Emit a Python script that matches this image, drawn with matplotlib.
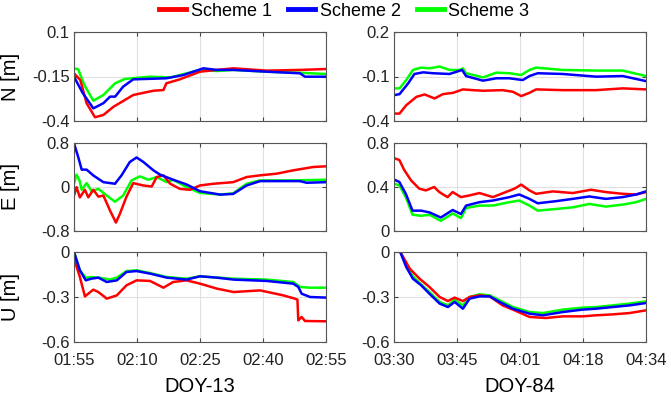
import matplotlib
matplotlib.use("Agg")
import matplotlib.pyplot as plt
import numpy as np

plt.rcParams['font.family'] = ['Liberation Sans', 'DejaVu Sans']

# ---------------- data (minutes since start, metres) ----------------
left_xticklabels = ["01:55", "02:10", "02:25", "02:40", "02:55"]
right_xticklabels = ["03:30", "03:45", "04:01", "04:18", "04:34"]
left_span = 60
right_span = 64

# N, left (DOY-13)
nl_s1_t = [0, 1.5, 3, 5, 7, 9.4, 14.1, 18.9, 21.3, 22, 25.2, 30, 34, 38, 45.9, 53.8, 60]
nl_s1_v = [-0.132, -0.17, -0.3, -0.379, -0.366, -0.32, -0.254, -0.23, -0.226, -0.188, -0.166, -0.123, -0.113, -0.104, -0.117, -0.113, -0.108]
nl_s2_t = [0, 2, 4.6, 7, 8.6, 9.8, 11.7, 14.1, 22, 26, 30.8, 34, 38, 45.9, 53.8, 55, 60]
nl_s2_v = [-0.151, -0.24, -0.329, -0.30, -0.263, -0.263, -0.207, -0.166, -0.16, -0.142, -0.104, -0.113, -0.113, -0.123, -0.132, -0.151, -0.151]
nl_s3_t = [0, 1, 2.5, 4.6, 7, 9.8, 12.1, 18, 23, 30, 34, 38, 45.9, 53.8, 60]
nl_s3_v = [-0.104, -0.11, -0.2, -0.286, -0.254, -0.188, -0.164, -0.151, -0.155, -0.113, -0.119, -0.113, -0.123, -0.129, -0.136]

# E, left
el_s1_t = [0, 0.6, 1.4, 2.6, 3.4, 4.6, 5.8, 7.0, 8.6, 9.98, 10.9, 12.5, 14.1, 16.5, 18.5, 19.7, 21.3, 22.9, 25.2, 27.6, 30, 33.2, 37.9, 41.1, 44.3, 48.3, 52.2, 57, 60]
el_s1_v = [-0.156, -0.003, -0.188, -0.051, -0.188, -0.051, -0.175, -0.156, -0.432, -0.647, -0.493, -0.175, 0.07, 0.028, 0.009, 0.181, 0.212, 0.059, -0.033, -0.051, 0.028, 0.059, 0.088, 0.181, 0.212, 0.243, 0.303, 0.364, 0.376]
el_s2_t = [0, 0.99, 1.83, 3.0, 4.6, 7.0, 9.76, 11.3, 13.3, 14.9, 16.5, 18.9, 20.5, 23.6, 26.8, 30, 34.8, 37.9, 41.1, 44.3, 49.0, 53.8, 55.4, 60]
el_s2_v = [0.794, 0.548, 0.316, 0.316, 0.21, 0.088, 0.059, 0.21, 0.456, 0.537, 0.456, 0.303, 0.224, 0.132, 0.046, -0.077, -0.138, -0.126, 0.028, 0.107, 0.107, 0.107, 0.077, 0.088]
el_s3_t = [0, 0.6, 1.3, 1.83, 3.0, 4.2, 5.8, 7.8, 9.76, 11.7, 13.7, 15.7, 17.7, 19.7, 22.1, 23.6, 26.8, 30, 34.8, 37.9, 41.1, 44.3, 52.2, 60]
el_s3_v = [0.059, 0.224, 0.12, -0.051, 0.07, -0.077, -0.033, -0.156, -0.267, -0.156, 0.12, 0.193, 0.132, 0.181, 0.088, 0.132, -0.003, -0.107, -0.138, -0.114, 0.059, 0.12, 0.12, 0.132]

# U, left
ul_s1_t = [0, 1.4, 2.6, 3.4, 4.6, 5.8, 7.8, 10.2, 12.5, 14.9, 18.1, 21.3, 23.6, 26.8, 30, 34, 38, 44.3, 49.8, 52.6, 53.2, 53.4, 54.2, 55.0, 60]
ul_s1_v = [-0.044, -0.167, -0.296, -0.278, -0.251, -0.267, -0.311, -0.289, -0.222, -0.189, -0.193, -0.238, -0.2, -0.189, -0.211, -0.244, -0.267, -0.256, -0.289, -0.311, -0.318, -0.456, -0.433, -0.46, -0.462]
ul_s2_t = [0, 1.4, 2.8, 4.1, 5.8, 7.8, 10.2, 12.5, 14.9, 18.1, 22.1, 26.8, 30, 34, 38, 45.9, 52.2, 53.4, 54.2, 56.2, 60]
ul_s2_v = [0.0, -0.122, -0.189, -0.178, -0.171, -0.2, -0.189, -0.133, -0.127, -0.144, -0.171, -0.184, -0.162, -0.171, -0.184, -0.193, -0.211, -0.233, -0.278, -0.3, -0.304]
ul_s3_t = [0, 1.4, 2.8, 4.1, 6.0, 8.4, 10.2, 12.5, 14.9, 18.1, 22.1, 26.8, 30, 38, 45.9, 52.2, 53.8, 56.2, 60]
ul_s3_v = [0.0, -0.122, -0.171, -0.167, -0.171, -0.184, -0.171, -0.127, -0.122, -0.14, -0.167, -0.178, -0.162, -0.178, -0.184, -0.2, -0.233, -0.238, -0.238]

# N, right (DOY-84)
nr_s1_t = [0, 1.4, 3.1, 5.7, 7.8, 10.3, 12.4, 15.0, 17.5, 20.0, 22.6, 27.6, 30.2, 32.3, 34.4, 36.1, 42.8, 51.3, 58.1, 64]
nr_s1_v = [-0.35, -0.35, -0.294, -0.237, -0.221, -0.248, -0.219, -0.21, -0.187, -0.192, -0.196, -0.192, -0.203, -0.232, -0.21, -0.187, -0.192, -0.192, -0.18, -0.187]
nr_s2_t = [0, 1.4, 3.6, 5.2, 7.4, 9.9, 14.1, 17.3, 18.3, 22.6, 26.0, 29.3, 32.7, 34.4, 36.5, 42.8, 51.3, 58.1, 64]
nr_s2_v = [-0.226, -0.219, -0.146, -0.083, -0.072, -0.078, -0.083, -0.056, -0.097, -0.128, -0.112, -0.112, -0.124, -0.097, -0.078, -0.083, -0.101, -0.097, -0.131]
nr_s3_t = [0, 1.4, 3.1, 4.8, 6.9, 9.0, 11.6, 14.1, 16.7, 17.5, 18.3, 22.6, 26.0, 29.3, 32.3, 34.4, 36.1, 42.8, 51.3, 58.1, 64]
nr_s3_v = [-0.18, -0.18, -0.124, -0.056, -0.04, -0.045, -0.033, -0.056, -0.056, -0.045, -0.078, -0.106, -0.074, -0.078, -0.09, -0.056, -0.04, -0.056, -0.06, -0.06, -0.097]

# E, right
er_s1_t = [0, 1.35, 2.6, 4.3, 6.4, 8.1, 10.2, 11.5, 13.6, 14.9, 17.0, 19.1, 21.7, 25.1, 28.4, 30.6, 32.3, 34.4, 36.1, 40.3, 45.4, 50.0, 53.8, 58.1, 61.5, 64]
er_s1_v = [0.662, 0.646, 0.554, 0.462, 0.385, 0.369, 0.4, 0.354, 0.308, 0.354, 0.308, 0.323, 0.345, 0.308, 0.354, 0.385, 0.422, 0.369, 0.338, 0.36, 0.345, 0.375, 0.354, 0.338, 0.332, 0.354]
er_s2_t = [0, 1.35, 3.0, 4.7, 6.9, 9.0, 11.9, 14.9, 17.0, 18.3, 21.7, 25.1, 29.3, 31.8, 34.4, 36.5, 41.1, 45.4, 49.6, 53.8, 58.1, 61.5, 64]
er_s2_v = [0.468, 0.446, 0.338, 0.185, 0.185, 0.169, 0.123, 0.191, 0.154, 0.231, 0.262, 0.277, 0.308, 0.332, 0.292, 0.252, 0.271, 0.292, 0.314, 0.292, 0.308, 0.332, 0.36]
er_s3_t = [0, 1.35, 3.0, 4.7, 6.9, 9.0, 11.9, 14.9, 17.0, 18.3, 21.7, 25.1, 29.3, 31.8, 34.4, 36.5, 41.1, 45.4, 49.6, 53.8, 58.1, 61.5, 64]
er_s3_v = [0.431, 0.415, 0.308, 0.148, 0.138, 0.148, 0.092, 0.16, 0.117, 0.209, 0.231, 0.231, 0.262, 0.277, 0.231, 0.185, 0.2, 0.215, 0.246, 0.222, 0.24, 0.262, 0.292]

# U, right
ur_s1_t = [1.6, 4.0, 6.5, 9.0, 11.6, 13.7, 15.4, 17.5, 19.2, 21.7, 24.3, 27.6, 31.0, 34.4, 38.6, 42.9, 47.9, 51.3, 55.5, 59.8, 64]
ur_s1_v = [0.0, -0.111, -0.178, -0.233, -0.3, -0.327, -0.304, -0.327, -0.3, -0.289, -0.296, -0.356, -0.393, -0.433, -0.44, -0.429, -0.429, -0.422, -0.416, -0.407, -0.389]
ur_s2_t = [1.6, 3.1, 4.8, 6.9, 9.0, 11.6, 13.7, 15.4, 17.5, 19.2, 21.7, 24.3, 26.8, 30.2, 34.4, 37.8, 42.9, 47.9, 51.3, 55.5, 59.8, 64]
ur_s2_v = [0.0, -0.1, -0.178, -0.222, -0.278, -0.344, -0.367, -0.333, -0.378, -0.311, -0.296, -0.296, -0.333, -0.378, -0.411, -0.422, -0.4, -0.384, -0.378, -0.367, -0.356, -0.34]
ur_s3_t = [1.6, 3.1, 4.8, 6.9, 9.0, 11.6, 13.7, 15.4, 17.5, 19.2, 21.7, 24.3, 26.8, 30.2, 34.4, 37.8, 42.9, 47.9, 51.3, 55.5, 59.8, 64]
ur_s3_v = [0.0, -0.089, -0.162, -0.216, -0.267, -0.333, -0.356, -0.318, -0.356, -0.3, -0.282, -0.289, -0.322, -0.367, -0.4, -0.407, -0.384, -0.371, -0.367, -0.356, -0.344, -0.329]

labels = ["Scheme 1", "Scheme 2", "Scheme 3"]
colors = ["#ff0000", "#0000ff", "#00ff00"]

# ---------------- figure ----------------
fig = plt.figure(figsize=(6.71, 3.97), dpi=100)

lx, rx, w = 74 / 671, 394 / 671, 252 / 671
rows = [(1 - 121 / 397, 89 / 397), (1 - 231 / 397, 88 / 397), (1 - 342 / 397, 90 / 397)]

panels = [
    (0, 0, [(nl_s1_t, nl_s1_v), (nl_s2_t, nl_s2_v), (nl_s3_t, nl_s3_v)], (-0.4, 0.1), [-0.4, -0.15, 0.1], ["-0.4", "-0.15", "0.1"], "N [m]"),
    (1, 0, [(el_s1_t, el_s1_v), (el_s2_t, el_s2_v), (el_s3_t, el_s3_v)], (-0.8, 0.8), [-0.8, 0, 0.8], ["-0.8", "0", "0.8"], "E [m]"),
    (2, 0, [(ul_s1_t, ul_s1_v), (ul_s2_t, ul_s2_v), (ul_s3_t, ul_s3_v)], (-0.6, 0.0), [-0.6, -0.3, 0], ["-0.6", "-0.3", "0"], "U [m]"),
    (0, 1, [(nr_s1_t, nr_s1_v), (nr_s2_t, nr_s2_v), (nr_s3_t, nr_s3_v)], (-0.4, 0.2), [-0.4, -0.1, 0.2], ["-0.4", "-0.1", "0.2"], None),
    (1, 1, [(er_s1_t, er_s1_v), (er_s2_t, er_s2_v), (er_s3_t, er_s3_v)], (0.0, 0.8), [0, 0.4, 0.8], ["0", "0.4", "0.8"], None),
    (2, 1, [(ur_s1_t, ur_s1_v), (ur_s2_t, ur_s2_v), (ur_s3_t, ur_s3_v)], (-0.6, 0.0), [-0.6, -0.3, 0], ["-0.6", "-0.3", "0"], None),
]

tick_fs = 12
label_fs = 14.5
handles = [None, None, None]
for row, col, series, ylim, yt, ytl, ylab in panels:
    b, h = rows[row]
    ax = fig.add_axes([lx if col == 0 else rx, b, w, h])
    span = left_span if col == 0 else right_span
    for idx in [2, 0, 1]:
        t, v = series[idx]
        ln, = ax.plot(t, v, color=colors[idx], lw=1.8, solid_joinstyle="round")
        handles[idx] = ln
    ax.set_xlim(0, span)
    ax.set_ylim(*ylim)
    ax.set_yticks(yt)
    ax.set_yticklabels(ytl)
    ax.set_xticks(np.linspace(0, span, 5))
    if row == 2:
        ax.set_xticklabels(left_xticklabels if col == 0 else right_xticklabels)
        ax.set_xlabel("DOY-13" if col == 0 else "DOY-84", fontsize=label_fs)
        ax.xaxis.set_label_coords(0.5, -0.39)
    else:
        ax.set_xticklabels([])
    if ylab:
        ax.set_ylabel(ylab, fontsize=label_fs)
        ax.yaxis.set_label_coords(-0.215, 0.5)
    ax.grid(True, color="#e0e0e0", lw=0.8)
    ax.set_axisbelow(True)
    ax.tick_params(direction="in", length=3, width=0.8, color="#444444", pad=3,
                   labelsize=tick_fs, labelcolor="#222222", top=True, right=True)
    ax.tick_params(axis="x", pad=8)
    for s in ax.spines.values():
        s.set_color("#555555")
        s.set_linewidth(0.8)

leg = fig.legend(handles, labels, loc="center", bbox_to_anchor=(0.513, 0.972), ncol=3,
                 frameon=False, fontsize=13, handlelength=1.5, handletextpad=0.25,
                 columnspacing=0.9)
for l in leg.get_lines():
    l.set_linewidth(3.5)

fig.savefig("out.png", dpi=100)
